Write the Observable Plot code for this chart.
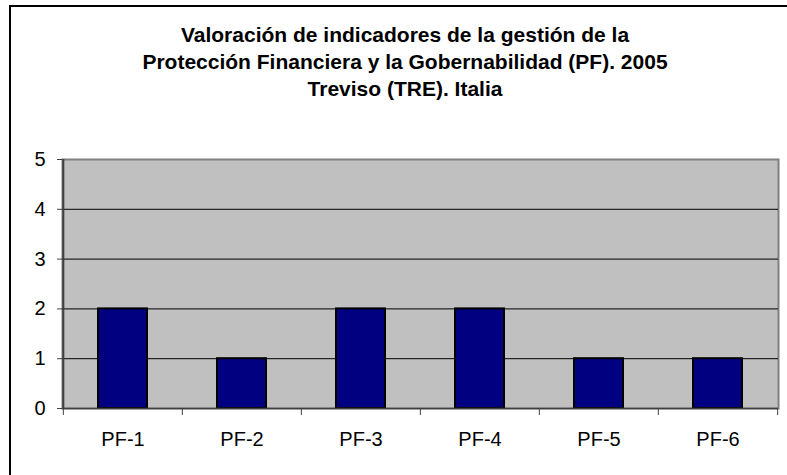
<!DOCTYPE html>
<html>
<head>
<meta charset="utf-8">
<script src="https://cdn.jsdelivr.net/npm/d3@7"></script>
<script src="https://cdn.jsdelivr.net/npm/@observablehq/plot@0.6"></script>
<style>
  html, body { margin: 0; padding: 0; background: #fff; }
  #wrap { position: relative; width: 787px; height: 475px; overflow: hidden; font-family: "Liberation Sans", Arial, sans-serif; }
  #border { position: absolute; left: 9px; top: 5px; width: 800px; height: 490px; border: 2px solid #000; box-sizing: border-box; }
  #title { position: absolute; left: 20px; width: 770px; top: 21px; text-align: center; font-weight: bold; font-size: 21px; line-height: 27px; color: #000; }
  #chart { position: absolute; left: 0; top: 0; }
</style>
</head>
<body>
<div id="wrap">
  <div id="border"></div>
  <div id="title">Valoración de indicadores de la gestión de la<br>Protección Financiera y la Gobernabilidad (PF). 2005<br>Treviso (TRE). Italia</div>
  <div id="chart"></div>
</div>
<script>
const categories = ["PF-1", "PF-2", "PF-3", "PF-4", "PF-5", "PF-6"];
const values = [2, 1, 2, 2, 1, 1];
const yTicks = [0, 1, 2, 3, 4, 5];
const gridLines = [1, 2, 3, 4];

const data = categories.map((c, i) => ({cat: c, v: values[i]}));

const W = 787, H = 475, ML = 62, MR = 9, MT = 159, MB = 67;
const half = (W - ML - MR) / categories.length / 2;

const chart = Plot.plot({
  width: W,
  height: H,
  marginLeft: ML,
  marginRight: MR,
  marginTop: MT,
  marginBottom: MB,
  style: {fontFamily: "'Liberation Sans', Arial, sans-serif", fontSize: "20px", color: "#000", background: "transparent", overflow: "visible"},
  x: {domain: categories, paddingInner: 0.59, paddingOuter: 0.295, label: null},
  y: {domain: [0, 5], label: null},
  marks: [
    Plot.frame({fill: "#c0c0c0", stroke: "#808080", strokeWidth: 2}),
    Plot.ruleY(gridLines, {stroke: "#000", strokeWidth: 1}),
    Plot.barY(data, {x: "cat", y: "v", fill: "#000080", stroke: "#000", strokeWidth: 2}),
    Plot.ruleX([0], {x: () => categories[0], dx: -half, stroke: "#404040", strokeWidth: 2}),
    Plot.ruleY([0], {stroke: "#404040", strokeWidth: 1.5}),
    Plot.ruleX(categories, {x: d => d, y1: 0, y2: -0.14, dx: -half, stroke: "#404040"}),
    Plot.ruleX([categories[categories.length - 1]], {x: d => d, y1: 0, y2: -0.14, dx: half, stroke: "#404040"}),
    Plot.axisY(yTicks, {tickSize: 5, tickPadding: 12, tickFormat: d3.format("d"), stroke: "#404040", fontSize: 20, fill: "#000"}),
    Plot.axisX({tickSize: 0, tickPadding: 23, fontSize: 20, fill: "#000"})
  ]
});
document.getElementById("chart").appendChild(chart);
</script>
</body>
</html>
